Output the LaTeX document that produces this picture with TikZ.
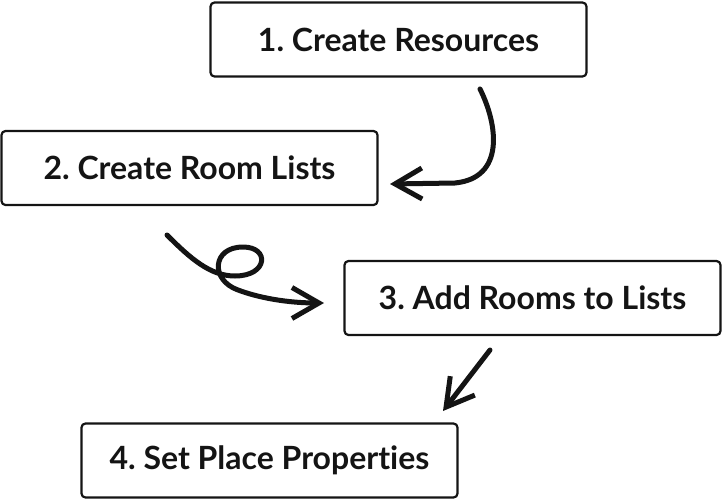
\documentclass[tikz,border=0pt]{standalone}
\usepackage{fontspec}
\setmainfont[Ligatures=NoCommon]{Lato}
\usepackage{tikz}
\usetikzlibrary{arrows.meta, positioning}
\definecolor{inkblack}{RGB}{20,20,20}
\frenchspacing

\tikzset{
  stepbox/.style={draw=inkblack, line width=2.2pt, rounded corners=4pt,
    minimum width=376pt, minimum height=74pt, inner sep=0pt,
    font=\fontsize{32}{38}\selectfont\bfseries, text=inkblack},
  scribble/.style={draw=inkblack, line width=5pt, line cap=round,
    -{Straight Barb[length=27pt, width=31pt, line width=5pt]}}
}

\begin{document}
\begin{tikzpicture}[x=1pt, y=-1pt]
      \useasboundingbox (0,0) rectangle (723,501);
      % Steps
      \node[stepbox] (create) at (398.5,39.5) {1. Create Resources};
      \node[stepbox] (lists) at (189.5,168) {2. Create Room Lists};
      \node[stepbox] (add) at (532.5,298) {3. Add Rooms to Lists};
      \node[stepbox] (props) at (269.5,460.5) {4. Set Place Properties};
      % Hand-drawn arrows
      \coordinate (c1) at (480,89);
      \coordinate (c2) at (167,235);
      \coordinate (c3) at (490,350);
      \coordinate (e1) at (390,184);
      \coordinate (e2) at (324,303);
      \coordinate (e3) at (443,411);
      \draw[scribble] (c1) .. controls (498,125) and (505,178) .. (455,183) -- (e1);
      \draw[scribble] (c2) .. controls (190,258) and (210,276) .. (235,276)
        .. controls (268,276) and (270,247) .. (243,247)
        .. controls (212,247) and (210,280) .. (238,290)
        .. controls (265,300) and (295,303) .. (e2);
      \draw[scribble] (c3) -- (e3);
    \end{tikzpicture}
\end{document}
